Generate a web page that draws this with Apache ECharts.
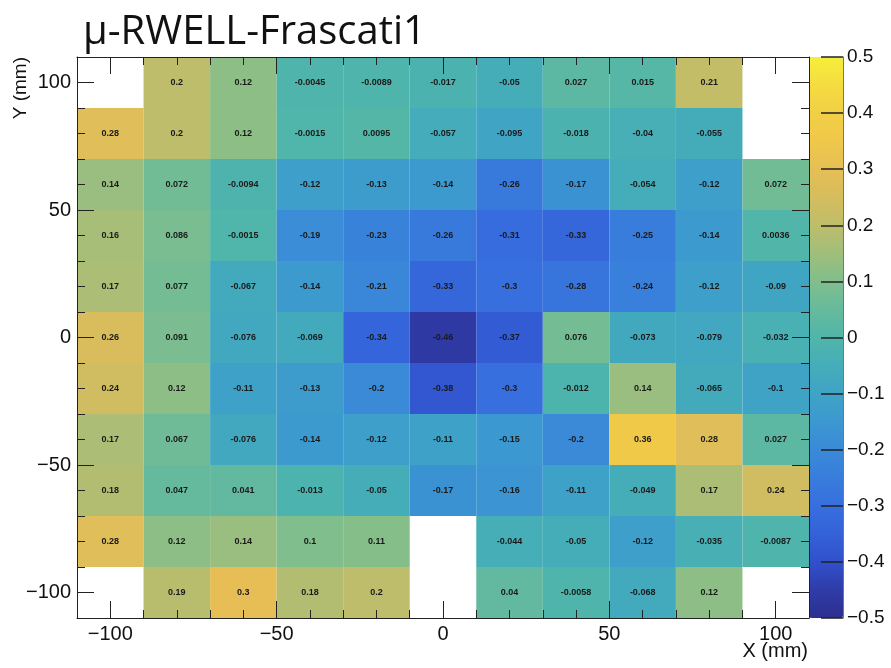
<!DOCTYPE html>
<html>
<head>
<meta charset="utf-8">
<script src="https://cdn.jsdelivr.net/npm/echarts@6/dist/echarts.min.js"></script>
<style>html,body{margin:0;padding:0;background:#fff}#c{width:891px;height:668px}</style>
</head>
<body>
<div id="c"></div>
<script>
const xCenters = [-100, -80, -60, -40, -20, 0, 20, 40, 60, 80, 100];
const yCenters = [100, 80, 60, 40, 20, 0, -20, -40, -60, -80, -100];
const row_y100  = [null, 0.2, 0.12, -0.0045, -0.0089, -0.017, -0.05, 0.027, 0.015, 0.21, null];
const row_y80   = [0.28, 0.2, 0.12, -0.0015, 0.0095, -0.057, -0.095, -0.018, -0.04, -0.055, null];
const row_y60   = [0.14, 0.072, -0.0094, -0.12, -0.13, -0.14, -0.26, -0.17, -0.054, -0.12, 0.072];
const row_y40   = [0.16, 0.086, -0.0015, -0.19, -0.23, -0.26, -0.31, -0.33, -0.25, -0.14, 0.0036];
const row_y20   = [0.17, 0.077, -0.067, -0.14, -0.21, -0.33, -0.3, -0.28, -0.24, -0.12, -0.09];
const row_y0    = [0.26, 0.091, -0.076, -0.069, -0.34, -0.46, -0.37, 0.076, -0.073, -0.079, -0.032];
const row_ym20  = [0.24, 0.12, -0.11, -0.13, -0.2, -0.38, -0.3, -0.012, 0.14, -0.065, -0.1];
const row_ym40  = [0.17, 0.067, -0.076, -0.14, -0.12, -0.11, -0.15, -0.2, 0.36, 0.28, 0.027];
const row_ym60  = [0.18, 0.047, 0.041, -0.013, -0.05, -0.17, -0.16, -0.11, -0.049, 0.17, 0.24];
const row_ym80  = [0.28, 0.12, 0.14, 0.1, 0.11, null, -0.044, -0.05, -0.12, -0.035, -0.0087];
const row_ym100 = [null, 0.19, 0.3, 0.18, 0.2, null, 0.04, -0.0058, -0.068, 0.12, null];
const rows = [row_y100, row_y80, row_y60, row_y40, row_y20, row_y0, row_ym20, row_ym40, row_ym60, row_ym80, row_ym100];
const axisTicksMajor = [-100, -50, 0, 50, 100];
const binHalf = 10;

const data = [];
rows.forEach((r, i) => r.forEach((v, j) => {
  if (v !== null) data.push([xCenters[j], yCenters[i], v]);
}));

// colours at -0.5, -0.45, ..., 0.5
const palette = ['#2c2f8f','#2f3ca8','#3150cc','#3462d9','#376fde','#387ddc','#3a8ad8','#3c98d0','#3fa3c6','#45adb8',
  '#50b5aa','#66ba9c','#80be8d','#a0be7b','#bebd6b','#d6bd5e','#e6be55','#efc84a','#f2cf45','#f4dc40','#f7ee3a'];
const minus = s => String(s).replace('-', '\u2212');
const fmtTick = v => minus(v);
const fmtZ = v => minus(Math.round(v * 10) / 10);

const lineStyle = {color: '#222', width: 1};
function minorAxis(gridIndex, pos) {
  return {
    type: 'value', gridIndex, position: pos, min: -110, max: 110, interval: 10, z: 10,
    splitLine: {show: false},
    axisLine: {show: true, onZero: false, lineStyle},
    axisTick: {show: true, inside: true, length: 8, lineStyle},
    axisLabel: {show: false}
  };
}
function majorAxis(gridIndex, pos, labels) {
  return {
    type: 'value', gridIndex, position: pos, min: -110, max: 110, interval: 10, z: 10,
    splitLine: {show: false},
    axisLine: {show: false, onZero: false},
    axisTick: {show: true, inside: true, length: 17, customValues: axisTicksMajor, lineStyle},
    axisLabel: {show: labels, customValues: axisTicksMajor, formatter: fmtTick,
      fontFamily: 'Liberation Sans', fontSize: 20, color: '#111', margin: 6}
  };
}

const chart = echarts.init(document.getElementById('c'), null, {renderer: 'canvas'});
chart.setOption({
  animation: false,
  backgroundColor: '#fff',
  title: {
    text: '\u03bc-RWELL-Frascati1', left: 78, top: 8,
    textStyle: {fontFamily: 'Open Sans', fontSize: 40, fontWeight: 'normal', color: '#111'}
  },
  grid: [
    {left: 77, top: 57, width: 732, height: 561, outerBoundsMode: 'none', containLabel: false},
    {left: 809, top: 57, width: 34, height: 561, outerBoundsMode: 'none', containLabel: false}
  ],
  xAxis: [
    minorAxis(0, 'bottom'),
    majorAxis(0, 'bottom', true),
    minorAxis(0, 'top'),
    majorAxis(0, 'top', false),
    {type: 'value', gridIndex: 1, min: 0, max: 1, show: false}
  ],
  yAxis: [
    minorAxis(0, 'left'),
    majorAxis(0, 'left', true),
    minorAxis(0, 'right'),
    majorAxis(0, 'right', false),
    {type: 'value', gridIndex: 1, position: 'right', min: -0.5, max: 0.5, interval: 0.1, z: 10, zlevel: 1,
      splitLine: {show: false},
      axisLine: {show: true, onZero: false, lineStyle: {color: '#777', width: 1}},
      axisTick: {show: true, inside: true, length: 22, lineStyle: {color: '#222', width: 1.5}},
      axisLabel: {formatter: fmtZ, fontFamily: 'Liberation Sans', fontSize: 19, color: '#111', margin: 4}
    }
  ],
  visualMap: {
    type: 'continuous', min: -0.5, max: 0.5, dimension: 2, seriesIndex: 0,
    calculable: false, left: 809, top: 57, itemWidth: 34, itemHeight: 561, padding: 0,
    inRange: {color: palette}, text: null, z: 1
  },
  graphic: [
    {type: 'text', x: 21, y: 57, rotation: Math.PI / 2, z: 20,
      style: {text: 'Y (mm)', fontFamily: 'Liberation Sans', fontSize: 19, fill: '#111', align: 'right', verticalAlign: 'middle'}},
    {type: 'text', right: 83, top: 641, z: 20,
      style: {text: 'X (mm)', fontFamily: 'Liberation Sans', fontSize: 20, fill: '#111'}}
  ],
  series: [{
    type: 'custom', xAxisIndex: 0, yAxisIndex: 0, data,
    encode: {x: 0, y: 1},
    renderItem(params, api) {
      const x = api.value(0), y = api.value(1), v = api.value(2);
      const p0 = api.coord([x - binHalf, y + binHalf]);
      const p1 = api.coord([x + binHalf, y - binHalf]);
      return {type: 'group', children: [
        {type: 'rect', shape: {x: p0[0], y: p0[1], width: p1[0] - p0[0], height: p1[1] - p0[1]},
          style: {fill: api.visual('color')}},
        {type: 'text', style: {text: String(v), x: (p0[0] + p1[0]) / 2, y: (p0[1] + p1[1]) / 2,
          align: 'center', verticalAlign: 'middle', fill: '#1a1a1a',
          font: 'bold 9px "Liberation Sans"'}}
      ]};
    }
  }]
});
</script>
</body>
</html>
